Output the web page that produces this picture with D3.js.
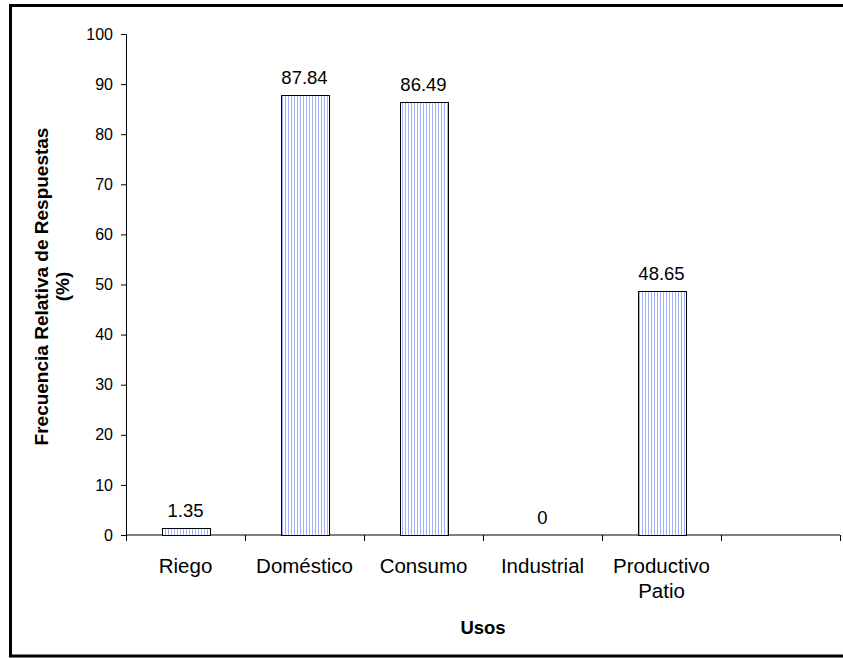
<!DOCTYPE html>
<html><head><meta charset="utf-8">
<script src="https://cdn.jsdelivr.net/npm/d3@7"></script>
<style>body{margin:0;background:#fff}svg{display:block;font-family:"Liberation Sans",Arial,sans-serif}</style>
</head><body><svg id="c" width="843" height="658"></svg>
<script>
const categories = ["Riego", "Doméstico", "Consumo", "Industrial", "Productivo Patio", ""];
const values = [1.35, 87.84, 86.49, 0, 48.65, null];
const yTicks = [0,10,20,30,40,50,60,70,80,90,100];

const svg = d3.select("#c");
const m = {left:126, right:840, top:34, bottom:535};

// frame
svg.append("rect").attr("x",10.5).attr("y",5.5).attr("width",840).attr("height",650.5)
  .attr("fill","none").attr("stroke","#000").attr("stroke-width",3);

const defs = svg.append("defs");
const pat = defs.append("pattern").attr("id","vl").attr("patternUnits","userSpaceOnUse")
  .attr("width",3).attr("height",4);
pat.append("rect").attr("width",3).attr("height",4).attr("fill","#fff");
pat.append("rect").attr("x",0).attr("width",1).attr("height",4).attr("fill","#9fb0ff");

const x = d3.scaleBand().domain(categories.map((d,i)=>i)).range([m.left,m.right]).paddingInner(0).paddingOuter(0);
const y = d3.scaleLinear().domain([0,100]).range([m.bottom,m.top]);

// y axis
const ya = svg.append("g").attr("transform",`translate(${m.left},0)`)
  .call(d3.axisLeft(y).tickValues(yTicks).tickSize(5).tickPadding(8));
ya.attr("font-family",null).attr("font-size",null);
ya.selectAll("text").attr("font-size",16).attr("fill","#000");
ya.selectAll("line,path").attr("stroke","#000");

// x axis
const xa = svg.append("g").attr("transform",`translate(0,${m.bottom})`);
xa.append("line").attr("x1",m.left).attr("x2",m.right).attr("stroke","#000");
const tickXs = categories.map((d,i)=>x(i)).concat([m.right]);
xa.selectAll("line.t").data(tickXs).enter().append("line").attr("class","t")
  .attr("x1",d=>d+0.5).attr("x2",d=>d+0.5).attr("y1",0).attr("y2",6).attr("stroke","#000");

// category labels
categories.forEach((c,i)=>{
  if(!c) return;
  const words = c === "Productivo Patio" ? ["Productivo","Patio"] : [c];
  const t = svg.append("text").attr("x",x(i)+x.bandwidth()/2).attr("y",573)
    .attr("text-anchor","middle").attr("font-size",20.5).attr("fill","#000");
  words.forEach((w,k)=>t.append("tspan").attr("x",x(i)+x.bandwidth()/2).attr("dy",k?25:0).text(w));
});

// bars
const bw = 48;
const data = categories.map((c,i)=>({i,v:values[i]})).filter(d=>d.v!==null);
svg.selectAll("rect.bar").data(data.filter(d=>d.v>0)).enter().append("rect").attr("class","bar")
  .attr("x",d=>Math.round(x(d.i)+x.bandwidth()/2-bw/2)+0.5)
  .attr("y",d=>Math.round(y(d.v))+0.5)
  .attr("width",bw)
  .attr("height",d=>Math.round(y(0))-Math.round(y(d.v)))
  .attr("fill","url(#vl)").attr("stroke","#000").attr("stroke-width",1);

// value labels
svg.selectAll("text.val").data(data).enter().append("text").attr("class","val")
  .attr("x",d=>x(d.i)+x.bandwidth()/2)
  .attr("y",d=>y(d.v)-11)
  .attr("text-anchor","middle").attr("font-size",18.5).attr("fill","#000")
  .text(d=>d.v);

// axis titles
svg.append("text").attr("x",(m.left+m.right)/2).attr("y",634).attr("text-anchor","middle")
  .attr("font-size",18.5).attr("font-weight","bold").text("Usos");
const yt = svg.append("text").attr("transform",`translate(48,${(m.top+m.bottom)/2+2}) rotate(-90)`)
  .attr("text-anchor","middle").attr("font-size",19).attr("font-weight","bold");
yt.append("tspan").attr("x",0).attr("dy",0).text("Frecuencia Relativa de Respuestas");
yt.append("tspan").attr("x",0).attr("dy",21).text("(%)");
</script></body></html>
